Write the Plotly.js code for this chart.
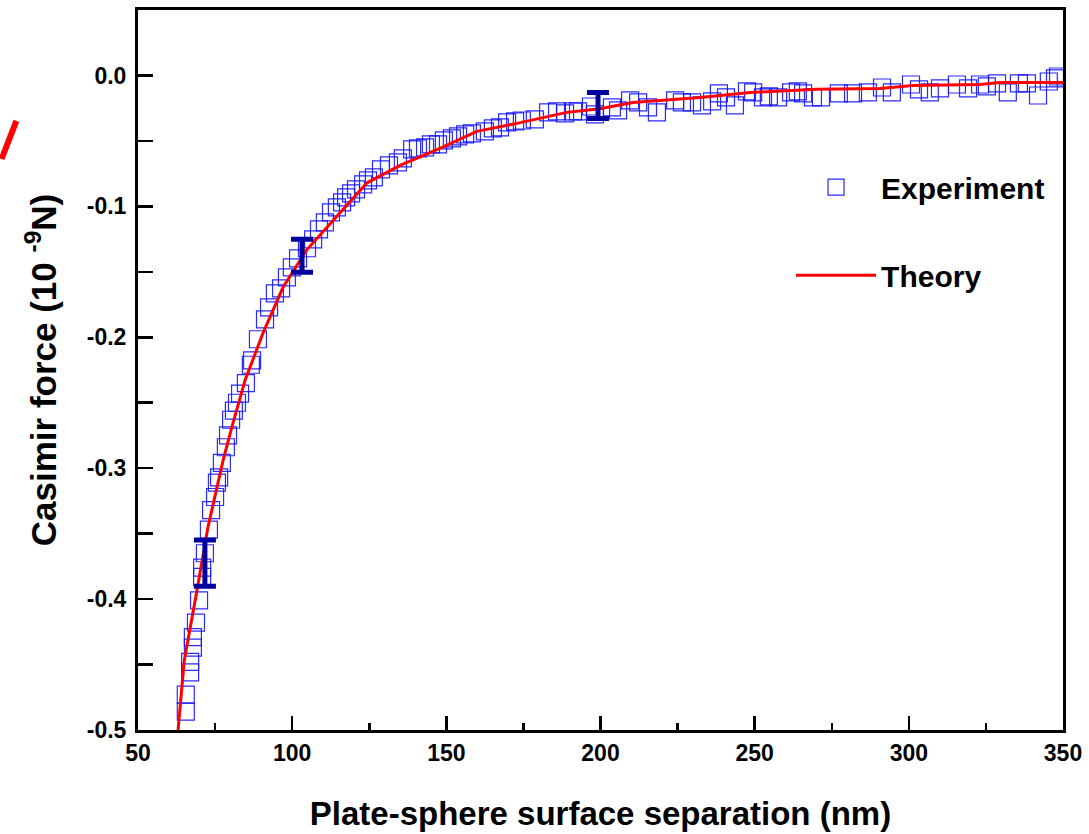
<!DOCTYPE html>
<html>
<head>
<meta charset="utf-8">
<script src="https://cdn.plot.ly/plotly-3.0.1.min.js"></script>
<style>html,body{margin:0;padding:0;background:#fff;}#chart{width:1089px;height:834px;}</style>
</head>
<body>
<div id="chart"></div>
<script>
// Experiment (plate-sphere separation in nm, Casimir force in 1e-9 N)
const expX = [65.5, 65.5, 66.9, 66.9, 67.8, 67.8, 68.8, 69.8, 70.8, 70.8, 71.7, 73.0, 73.7, 75.0, 75.6, 76.3, 77.2, 78.5, 79.2, 80.2, 81.1, 82.1, 83.1, 85.0, 86.6, 87.0, 88.9, 91.2, 92.5, 94.4, 96.4, 98.3, 99.9, 101.9, 104.8, 106.8, 108.7, 110.6, 112.6, 114.5, 116.2, 117.5, 119.1, 120.7, 123.0, 124.6, 126.5, 128.8, 131.4, 134.3, 135.9, 138.9, 140.8, 143.1, 145.0, 147.3, 149.2, 151.8, 153.8, 156.1, 158.3, 162.5, 165.1, 167.4, 169.7, 172.3, 174.5, 178.7, 183.0, 185.9, 188.5, 191.1, 192.7, 196.9, 198.2, 203.7, 205.7, 209.6, 212.2, 215.4, 218.3, 224.2, 226.4, 229.7, 232.9, 236.2, 238.4, 240.7, 243.6, 247.5, 249.5, 252.7, 254.6, 257.6, 261.8, 264.0, 265.7, 268.9, 271.5, 277.3, 281.9, 286.7, 291.3, 294.5, 300.7, 303.3, 306.8, 310.1, 315.6, 319.2, 323.1, 325.3, 328.6, 332.1, 335.7, 338.3, 341.9, 345.4, 347.4, 348.4];
const expY = [-0.486, -0.473, -0.456, -0.448, -0.437, -0.429, -0.418, -0.401, -0.383, -0.376, -0.365, -0.347, -0.332, -0.322, -0.311, -0.307, -0.296, -0.284, -0.275, -0.263, -0.256, -0.250, -0.243, -0.235, -0.221, -0.2176, -0.2015, -0.1863, -0.1771, -0.1664, -0.1626, -0.1542, -0.1466, -0.1397, -0.132, -0.1252, -0.1176, -0.1122, -0.1046, -0.1008, -0.0969, -0.0931, -0.0901, -0.0870, -0.0832, -0.0802, -0.0779, -0.0718, -0.0687, -0.0664, -0.0634, -0.0565, -0.0557, -0.0550, -0.0527, -0.0527, -0.0496, -0.0481, -0.0466, -0.0450, -0.0443, -0.0427, -0.0405, -0.0397, -0.0359, -0.0351, -0.0344, -0.0336, -0.0282, -0.0275, -0.0290, -0.0275, -0.0275, -0.0237, -0.0298, -0.0244, -0.0267, -0.0191, -0.0206, -0.0244, -0.0282, -0.0191, -0.0206, -0.0206, -0.0229, -0.0198, -0.0137, -0.0168, -0.0229, -0.0122, -0.0130, -0.0168, -0.0160, -0.0168, -0.0130, -0.0122, -0.0137, -0.0168, -0.0168, -0.0137, -0.0137, -0.0130, -0.0092, -0.0130, -0.0069, -0.0107, -0.0130, -0.0099, -0.0069, -0.0099, -0.0069, -0.0084, -0.0061, -0.0130, -0.0061, -0.0061, -0.0153, -0.0046, -0.0023, -0.0008];

// Theory curve
const theoryX = [63, 65, 69, 72.7, 77.6, 80.4, 84.7, 90.5, 97, 104.8, 113.2, 124.3, 135, 147.9, 159.9, 172.9, 189.1, 199.8, 210.5, 232.3, 248.5, 270, 290.6, 301.3, 323.1, 329.5, 350];
const theoryY = [-0.5, -0.447, -0.395, -0.345, -0.294, -0.269, -0.233, -0.197, -0.162, -0.133, -0.111, -0.082, -0.0687, -0.0557, -0.0427, -0.0366, -0.0282, -0.0255, -0.0206, -0.0168, -0.013, -0.0105, -0.0099, -0.0076, -0.0069, -0.0053, -0.0053];

// Representative error bars
const errX = [71.7, 103.2, 199.2];
const errY = [-0.3725, -0.1377, -0.0229];
const errHalf = [0.0176, 0.0126, 0.0099];

// Tick labels
const yTickVals = [-0.5, -0.4, -0.3, -0.2, -0.1, 0.0];
const yTickText = ['-0.5', '-0.4', '-0.3', '-0.2', '-0.1', '0.0'];
const xTickVals = [50, 100, 150, 200, 250, 300, 350];
const xTickText = ['50', '100', '150', '200', '250', '300', '350'];

const FONT = 'Liberation Sans, Arial, sans-serif';

const traces = [
  {
    x: expX, y: expY, type: 'scatter', mode: 'markers', name: 'Experiment',
    legendgroup: 'exp',
    marker: {symbol: 'square-open', size: 17, color: 'rgba(20,20,255,0.9)', line: {width: 1.2}},
    cliponaxis: true
  },
  {
    x: theoryX, y: theoryY, type: 'scatter', mode: 'lines', name: 'Theory',
    legendgroup: 'th',
    line: {color: '#ff0000', width: 3}
  },
  {
    x: errX, y: errY, type: 'scatter', mode: 'markers', showlegend: false,
    marker: {size: 1, color: 'rgba(0,0,0,0)'},
    error_y: {type: 'data', array: errHalf, visible: true, color: '#00009c', thickness: 5, width: 11}
  }
];

const layout = {
  width: 1089, height: 834,
  margin: {l: 138, r: 26, t: 10, b: 104},
  paper_bgcolor: '#ffffff', plot_bgcolor: '#ffffff',
  font: {family: FONT, color: '#000'},
  showlegend: true,
  legend: {
    x: 0.706, xanchor: 'left', y: 0.79, yanchor: 'top',
    bgcolor: 'rgba(0,0,0,0)', borderwidth: 0,
    font: {family: FONT, size: 30, weight: 700, color: '#000'},
    itemwidth: 80, traceorder: 'grouped', tracegroupgap: 46
  },
  xaxis: {
    range: [50, 350], tickvals: xTickVals, ticktext: xTickText,
    ticks: 'inside', ticklen: 14, tickwidth: 2.5, tickcolor: '#000',
    showline: true, linewidth: 3, linecolor: '#000', mirror: true,
    showgrid: false, zeroline: false,
    tickfont: {family: FONT, size: 23, weight: 700, color: '#000'},
    minor: {ticks: 'inside', dtick: 25, tick0: 50, ticklen: 7, tickwidth: 2.5, tickcolor: '#000', showgrid: false},
    title: {text: 'Plate-sphere surface separation (nm)', font: {family: FONT, size: 33, weight: 700, color: '#000'}, standoff: 38}
  },
  yaxis: {
    range: [-0.5, 0.05], tickvals: yTickVals, ticktext: yTickText,
    ticks: 'inside', ticklen: 15, tickwidth: 2.5, tickcolor: '#000',
    showline: true, linewidth: 3, linecolor: '#000', mirror: true,
    showgrid: false, zeroline: false, ticklabelstandoff: 4,
    tickfont: {family: FONT, size: 23, weight: 700, color: '#000'},
    minor: {ticks: 'inside', dtick: 0.05, tick0: 0, ticklen: 15, tickwidth: 2.5, tickcolor: '#000', showgrid: false},
    title: {text: 'Casimir force (10 <sup>-9</sup>N)', font: {family: FONT, size: 35, weight: 700, color: '#000'}, standoff: 20}
  },
  shapes: [
    {type: 'line', xref: 'paper', yref: 'paper', x0: -0.1475, y0: 0.7930, x1: -0.1315, y1: 0.8460,
     line: {color: '#ff0000', width: 6}}
  ]
};

Plotly.newPlot('chart', traces, layout, {displayModeBar: false, staticPlot: true});
</script>
</body>
</html>
